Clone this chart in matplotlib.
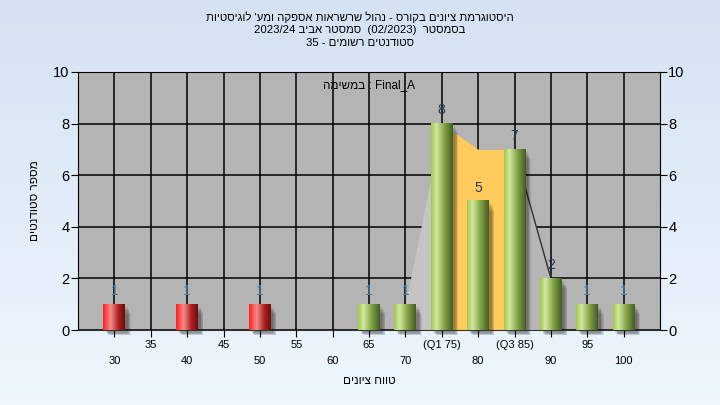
import re
import numpy as np
import matplotlib
matplotlib.use('Agg')
import matplotlib.pyplot as plt
from matplotlib.colors import LinearSegmentedColormap
from matplotlib.patches import Rectangle

plt.rcParams['font.family'] = ['Liberation Sans', 'DejaVu Sans']

# data
grades = [30, 40, 50, 65, 70, 75, 80, 85, 90, 95, 100]
counts = [1, 1, 1, 1, 1, 8, 5, 7, 2, 1, 1]
pass_mark = 55
curve_x = [70, 75, 80, 85, 90]
curve_y = [1, 8, 7, 7, 2]
q1, q3 = 75, 85
ticks_all = list(range(30, 105, 5))

title_lines = ["היסטוגרמת ציונים בקורס - נהול שרשראות אספקה ומע' לוגיסטיות",
               "בסמסטר  (02/2023)  סמסטר אביב 2023/24",
               "סטודנטים רשומים - 35"]
legend_txt = "Final_A : במשימה"
xlabel = "טווח ציונים"
ylabel = "מספר סטודנטים"


def rtl(s):
    # crude visual reordering for right-to-left text
    r = s[::-1]
    r = re.sub(r"[0-9A-Za-z_/.]+", lambda m: m.group(0)[::-1], r)
    return r.translate(str.maketrans("()", ")("))


fig = plt.figure(figsize=(7.2, 4.05), dpi=100)

# background gradient
bg = fig.add_axes([0, 0, 1, 1], zorder=-10)
bg.imshow(np.linspace(0, 1, 100).reshape(-1, 1), aspect='auto', extent=[0, 1, 0, 1],
          cmap=LinearSegmentedColormap.from_list('bg', ['#d4e2f3', '#eff6fd']))
bg.axis('off')

ax = fig.add_axes([78 / 720, 1 - 330 / 405, 582 / 720, 258 / 405])
ax.set_facecolor('#b4b4b4')
ax.set_xlim(25, 105)
ax.set_ylim(0, 10)

ax.set_xticks(ticks_all)
ax.set_yticks(range(0, 11, 2))
ax.grid(True, color='black', linewidth=1.1, zorder=0)
ax.set_axisbelow(True)

# curve areas
ax.fill_between(curve_x[:2], curve_y[:2], color='#c4c4c4', zorder=1, linewidth=0)
ax.fill_between(curve_x[1:4], curve_y[1:4], color='#ffcb5c', zorder=1, linewidth=0)
ax.fill_between(curve_x[3:], curve_y[3:], color='#b6b6b6', zorder=1, linewidth=0)
ax.plot(curve_x[3:], curve_y[3:], color='#333333', linewidth=1.0, zorder=1.5)

green = LinearSegmentedColormap.from_list('g', [(0, '#a2c848'), (0.25, '#d2e8a2'),
                                                (0.6, '#86a648'), (1, '#445c22')])
red = LinearSegmentedColormap.from_list('r', [(0, '#ff1e1e'), (0.35, '#f28c8c'),
                                              (0.7, '#b02020'), (1, '#6e0c0c')])
grad = np.linspace(0, 1, 64).reshape(1, -1)
w = 3.0
for g, c in zip(grades, counts):
    x0 = g - w / 2
    # soft shadow
    for k in range(5):
        ax.add_patch(Rectangle((x0 + 0.35 + k * 0.1, -0.12 - k * 0.02), w, c + 0.02 - k * 0.05,
                               color='black', alpha=0.09, linewidth=0, zorder=2, clip_on=False))
    cm = red if g < pass_mark else green
    ax.imshow(grad, extent=[x0, x0 + w, 0, c], aspect='auto', cmap=cm, zorder=3)
    ax.text(g, c + 0.25, str(c), ha='center', va='bottom', fontsize=10,
            color='#2a3a4a' if c > 1 else '#4d7fa3', zorder=4)

ax.set_xlim(25, 105)
ax.set_ylim(0, 10)

# x tick labels on two rows
lab = []
for t in ticks_all:
    if t == q1:
        s = '(Q1 %d)' % t
    elif t == q3:
        s = '(Q3 %d)' % t
    else:
        s = str(t)
    lab.append(s if t % 10 == 5 else '\n' + s)
ax.set_xticklabels(lab, fontsize=8, linespacing=1.75)
ax.tick_params(axis='x', length=5, pad=2)
ax.tick_params(axis='y', labelsize=10.5, length=5, right=True, labelright=True, pad=1)

for sp in ['left', 'right', 'top']:
    ax.spines[sp].set_color('black')
ax.spines['bottom'].set_color('#333333')

ax.set_xlabel(rtl(xlabel), fontsize=8.5, labelpad=7)
ax.set_ylabel(rtl(ylabel), fontsize=8.5, rotation=90, va='center')
ax.yaxis.set_label_coords(-43 / 582, 0.5)

ax.text(0.5, 0.95, rtl(legend_txt), transform=ax.transAxes, ha='center', va='center',
        fontsize=8.5, color='black', zorder=5)

for i, line in enumerate(title_lines):
    fig.text(0.5, 1 - (17 + 13 * i) / 405, rtl(line), ha='center', va='center', fontsize=8.2)

fig.savefig('out.png', dpi=100)
